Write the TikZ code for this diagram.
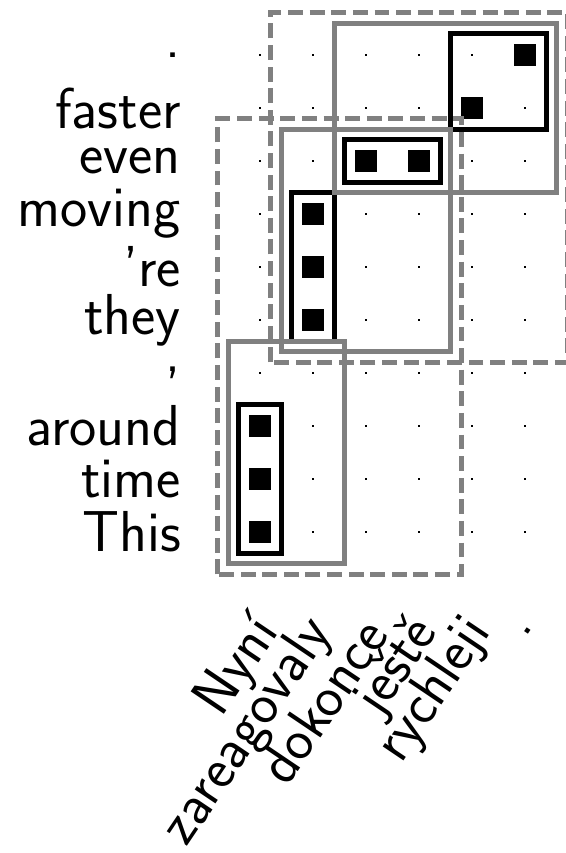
\documentclass[tikz,border=0pt]{standalone}
\usepackage{tikz}
\begin{document}
\begin{tikzpicture}[
    lbl/.style={font=\sffamily\fontsize{31}{37}\selectfont, inner sep=3.33pt},
    algn/.style={draw=black, line width=2.7pt},
    phr/.style={draw=gray, line width=2.7pt},
    phrd/.style={phr, dash pattern=on 8pt off 3.6pt},
]
\useasboundingbox (-4.906,-6.057) rectangle (5.755,10.038);

% words
\foreach \w [count=\j from 0] in {This, time, around, {,}, they, ’re, moving, even, faster, .}
    \node[lbl, anchor=east] (en\j) at (-1.37,\j) {\w};
\foreach \w [count=\i from 0] in {Nyní, zareagovaly, dokonce, ještě, rychleji, .}
    \node[lbl, rotate=56, anchor=east] (cs\i) at (\i+0.21,-1.64) {\w};

% grid and alignment points
\foreach \i in {0,...,5}
    \foreach \j in {0,...,9}
        \fill (\i-0.025,\j-0.025) rectangle (\i+0.025,\j+0.025);
\foreach \i/\j in {0/0, 0/1, 0/2, 1/4, 1/5, 1/6, 2/7, 3/7, 4/8, 5/9}
    \fill (\i-0.2,\j-0.2) rectangle (\i+0.2,\j+0.2);

% phrase boxes
\foreach \a/\b/\c/\d in {0/0/0/2, 1/4/1/6, 2/7/3/7, 4/8/5/9}
    \draw[algn] (\a-0.4,\b-0.4) rectangle (\c+0.4,\d+0.4);
\foreach \a/\b/\c/\d in {0/0/1/3, 1/4/3/7, 2/7/5/9}
    \draw[phr] (\a-0.6,\b-0.6) rectangle (\c+0.6,\d+0.6);
\foreach \a/\b/\c/\d in {0/0/3/7, 1/4/5/9}
    \draw[phrd] (\a-0.8,\b-0.8) rectangle (\c+0.8,\d+0.8);
\end{tikzpicture}
\end{document}
